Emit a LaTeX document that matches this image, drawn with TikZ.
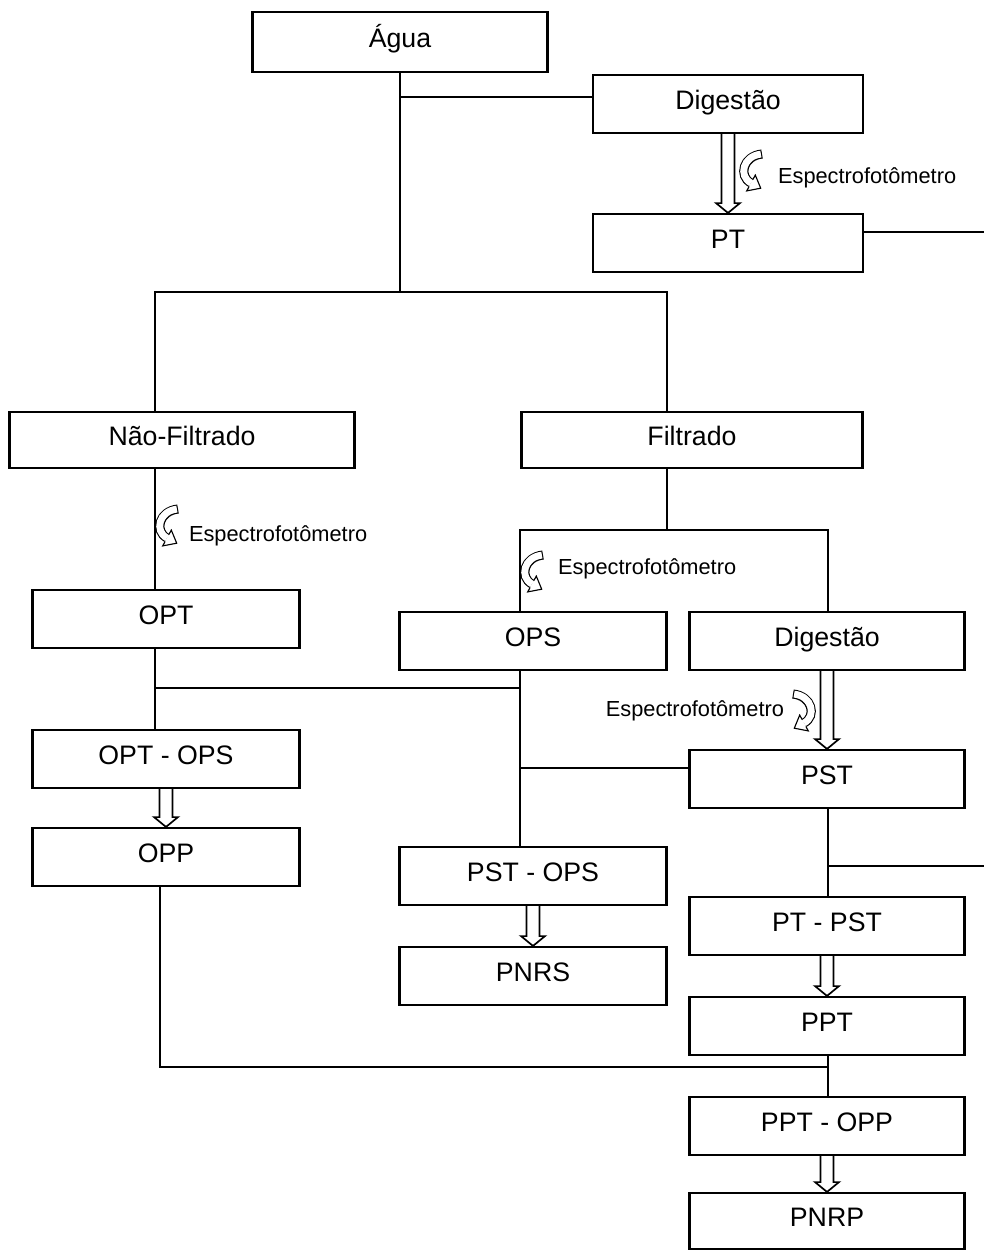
\documentclass[tikz,border=0pt]{standalone}
\usepackage{fontspec}
\setmainfont{Liberation Sans}
\usetikzlibrary{calc}

\newcommand{\setadupla}[2]{%
  \draw[fill=white,line width=1.2pt,line join=miter] let \p1=(#1.south),\p2=(#2.north) in
    (\x1-4.6pt,\y1) -- (\x1-4.6pt,\y2+7pt) -- (\x1-8.5pt,\y2+7pt) -- (\x1,\y2)
    -- (\x1+8.5pt,\y2+7pt) -- (\x1+4.6pt,\y2+7pt) -- (\x1+4.6pt,\y1);}

\begin{document}
\begin{tikzpicture}[x=0.025cm,y=-0.025cm,line width=1.5pt,
  caixa/.style={draw,minimum width=6.75cm,minimum height=1.45cm,inner sep=0pt,
    text height=0.716em,text depth=0pt,font=\fontsize{19}{22}\selectfont},
  rotulo/.style={inner sep=0pt,font=\fontsize{15.5}{18}\selectfont},
  espec/.pic={
    \draw[line width=6.5pt] (24,4) .. controls (5,6) and (0,26) .. (13,33);
    \draw[white,line width=4.9pt,shorten <=0.8pt] (24,4) .. controls (5,6) and (0,26) .. (13,33);
    \fill[white] (17.3,25.1) -- (22.7,38.2) -- (8.7,40.9) -- cycle;
    \draw[line width=0.8pt,line join=miter] (14.9,29.5) -- (17.3,25.1) -- (22.7,38.2) -- (8.7,40.9) -- (11.1,36.5);
  }]
\path[use as bounding box] (0,0) rectangle (984,1250);

% caixas
\node[caixa,minimum width=7.375cm,minimum height=1.5cm] (agua) at (400,42) {Água};
\node[caixa] (dig1) at (728,104) {Digestão};
\node[caixa] (pt) at (728,243) {PT};
\node[caixa,minimum width=8.625cm,minimum height=1.4cm] (naofilt) at (182,440) {Não-Filtrado};
\node[caixa,minimum width=8.525cm,minimum height=1.4cm] (filt) at (692,440) {Filtrado};
\node[caixa,minimum width=6.675cm] (opt) at (166,619) {OPT};
\node[caixa,minimum width=6.675cm] (ops) at (533,641) {OPS};
\node[caixa,minimum width=6.875cm] (dig2) at (827,641) {Digestão};
\node[caixa,minimum width=6.675cm] (optops) at (166,759) {OPT - OPS};
\node[caixa,minimum width=6.675cm] (opp) at (166,857) {OPP};
\node[caixa,minimum width=6.875cm] (pst) at (827,779) {PST};
\node[caixa,minimum width=6.675cm] (pstops) at (533,876) {PST - OPS};
\node[caixa,minimum width=6.675cm] (pnrs) at (533,976) {PNRS};
\node[caixa,minimum width=6.875cm] (ptpst) at (827,926) {PT - PST};
\node[caixa,minimum width=6.875cm] (ppt) at (827,1026) {PPT};
\node[caixa,minimum width=6.875cm] (pptopp) at (827,1126) {PPT - OPP};
\node[caixa,minimum width=6.875cm,minimum height=1.4cm] (pnrp) at (827,1221) {PNRP};

% espectrofotometro
\pic at (738,150) {espec};
\node[rotulo,anchor=west] (e1) at (777,178) {Espectrofotômetro};
\pic at (154,505) {espec};
\node[rotulo,anchor=west] (e2) at (188,536) {Espectrofotômetro};
\pic at (519,551) {espec};
\node[rotulo,anchor=west] (e3) at (557,569) {Espectrofotômetro};
\pic[xscale=-1] at (817,690) {espec};
\node[rotulo,anchor=east] (e4) at (785,711) {Espectrofotômetro};

% pontos de ligacao
\coordinate (j0) at (400,97);
\coordinate (j1) at (400,292);
\coordinate (xL) at (155,0);
\coordinate (xF) at (667,0);
\coordinate (xM) at (520,0);
\coordinate (xR) at (828,0);
\coordinate (jF) at (667,530);
\coordinate (jO) at (155,688);
\coordinate (jS) at (520,768);
\coordinate (jB) at (160,1067);
\coordinate (eR1) at (984,232);
\coordinate (eR2) at (984,866);

% ligacoes
\draw (agua.south) -- (j1);
\draw (j0) -- (dig1.west |- j0);
\draw (pt.east |- eR1) -- (eR1);
\draw (naofilt.north -| xL) |- (j1) -| (filt.north -| xF);
\draw (naofilt.south -| xL) -- (opt.north -| xL);
\draw (filt.south -| jF) -- (jF);
\draw (ops.north -| xM) |- (jF) -| (dig2.north -| xR);
\draw (opt.south -| xL) -- (optops.north -| xL);
\draw (jO) -- (jO -| xM);
\draw (ops.south -| xM) -- (pstops.north -| xM);
\draw (jS) -- (pst.west |- jS);
\draw (pst.south -| xR) -- (ptpst.north -| xR);
\draw (xR |- eR2) -- (eR2);
\draw (opp.south -| jB) -- (jB) -- (jB -| xR);
\draw (ppt.south -| xR) -- (pptopp.north -| xR);

% setas duplas
\setadupla{dig1}{pt}
\setadupla{optops}{opp}
\setadupla{dig2}{pst}
\setadupla{pstops}{pnrs}
\setadupla{ptpst}{ppt}
\setadupla{pptopp}{pnrp}
\end{tikzpicture}
\end{document}
